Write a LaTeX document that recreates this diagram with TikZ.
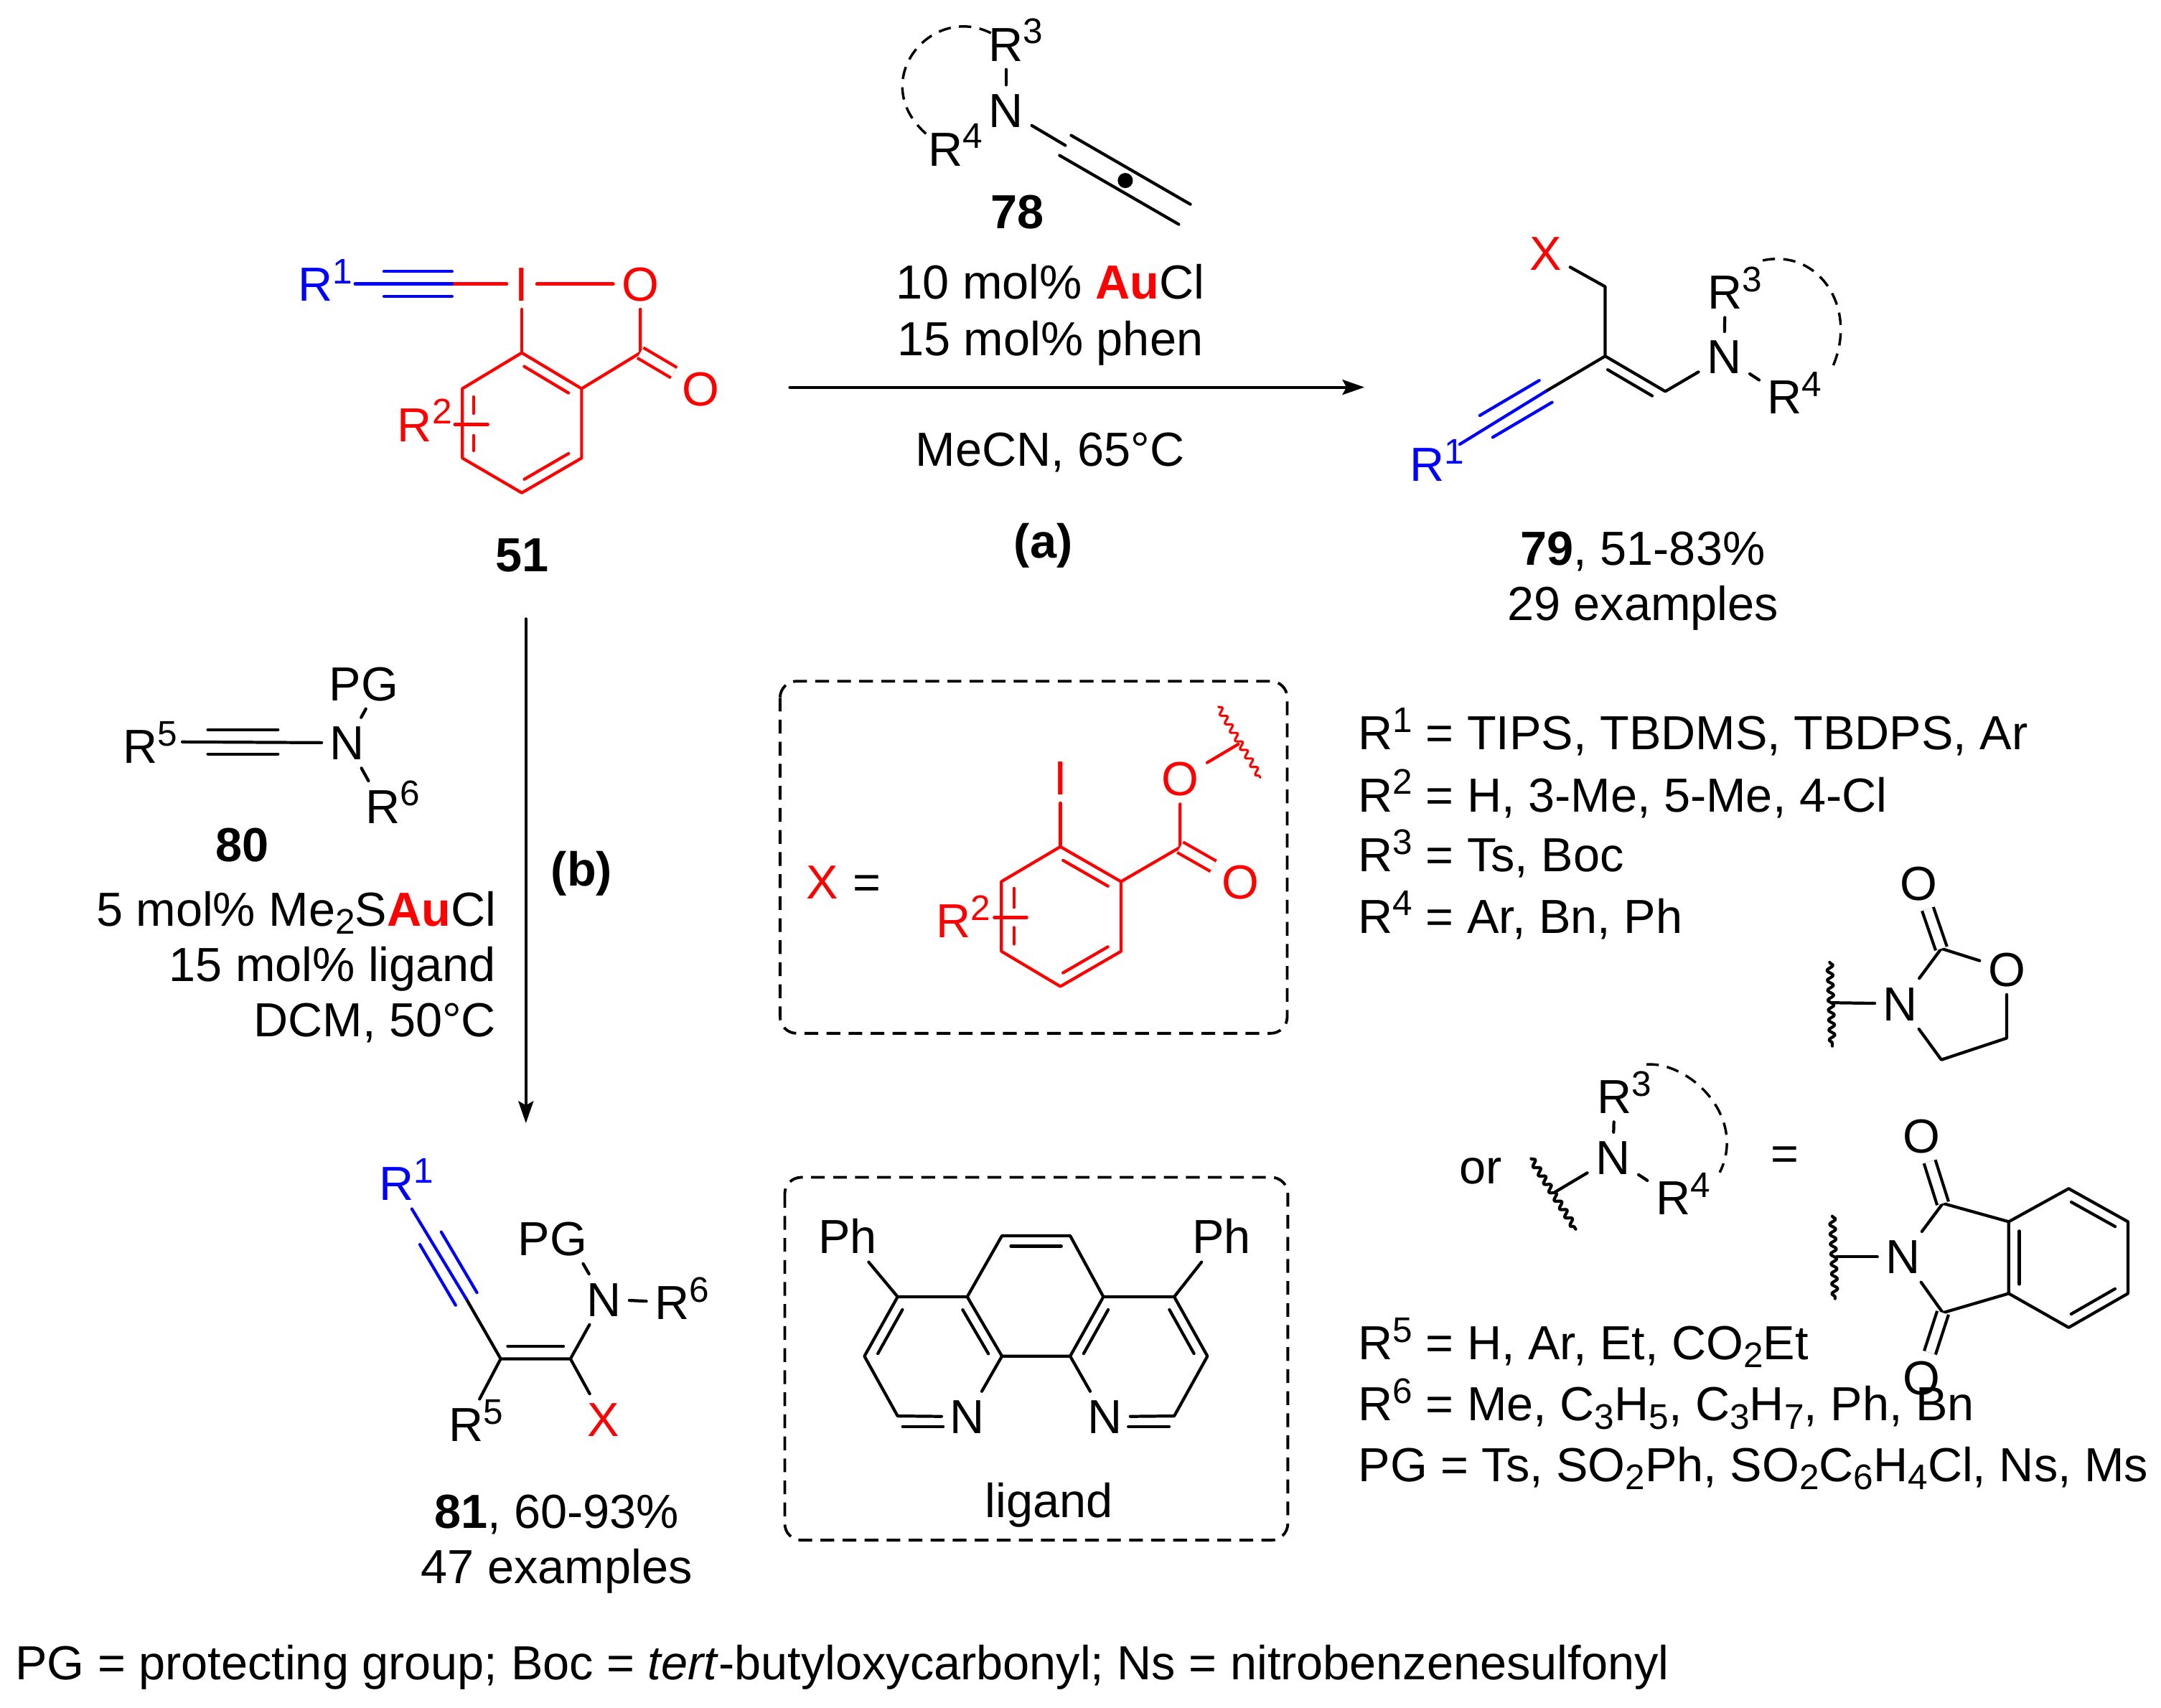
\documentclass[tikz,border=0pt]{standalone}
\usepackage{fontspec}
\setmainfont{Liberation Sans}
\usetikzlibrary{arrows.meta,calc,decorations.pathmorphing}
\newcommand{\supr}[1]{\raisebox{6.3pt}{\fontsize{12.9}{12.9}\selectfont #1}}
\newcommand{\subr}[1]{\raisebox{-3pt}{\fontsize{12.9}{12.9}\selectfont #1}}
\newcommand{\pbond}[4]{\draw ($(#1)!#3!(#2)!#4!90:(#2)$) -- ($(#2)!#3!(#1)!#4!-90:(#1)$);}
\tikzset{
  every node/.style={font=\fontsize{17.35}{20}\selectfont},
  atom/.style={inner sep=2.5pt,text height=12.3pt,text depth=0pt},
  txt/.style={anchor=base,inner sep=0pt},
  txtl/.style={anchor=base west,inner sep=0pt},
  txtr/.style={anchor=base east,inner sep=0pt},
  dbl/.style={double,double distance=3.2pt,line cap=butt},
  ringdash/.style={line width=.9pt,line cap=butt,dash pattern=on 4.5pt off 3pt},
  boxdash/.style={line width=1pt,line cap=butt,dash pattern=on 5pt off 3pt,rounded corners=6pt},
  wavy/.style={decorate,decoration={snake,segment length=3.6pt,amplitude=1.1pt}},
  rxn/.style={line width=1pt,-{Stealth[length=8pt,width=5.5pt,inset=1.5pt]}}
}
\begin{document}
\begin{tikzpicture}[x=.5pt,y=-.5pt,line width=1.1pt,line cap=round,line join=round]
\useasboundingbox (0,0) rectangle (1568,1239);
% 51
\coordinate (at) at (328,206);
\coordinate (as) at (278.6,206);
\begin{scope}[red]
\node[atom] (aI) at (378.6,206) {I};
\node[atom] (aO) at (464.6,206) {O};
\node[atom] (aD) at (508.6,282) {O};
\node[atom] (aR) at (301,308) {R\rlap{\supr{2}}};
\coordinate (aC) at (464.6,256);
\coordinate (a1) at (378.6,256);
\coordinate (a2) at (422,282);
\coordinate (a3) at (422,332.4);
\coordinate (a4) at (378.6,357.6);
\coordinate (a5) at (335.5,332.4);
\coordinate (a6) at (335.5,282);
\coordinate (ax) at (330,308);
\coordinate (ay) at (354,308);
\coordinate (ai) at (343.5,288);
\coordinate (aj) at (343.5,300);
\coordinate (ak) at (343.5,316);
\coordinate (al) at (343.5,327);
\draw (at) -- (aI);
\draw (aI) -- (aO);
\draw (aI) -- (a1);
\draw (a1) -- (a2) -- (a3) -- (a4) -- (a5) -- (a6) -- cycle;
\draw (a2) -- (aC) -- (aO);
\draw[dbl] (aC) -- (aD);
\draw (ax) -- (ay);
\draw (ai) -- (aj);
\draw (ak) -- (al);
\pbond{a1}{a2}{.13}{-3.8pt}
\pbond{a3}{a4}{.13}{-3.8pt}
\end{scope}
\begin{scope}[blue]
\node[atom] (aB) at (229,206) {R\rlap{\supr{1}}};
\draw[shorten <=5pt] (aB) -- (at);
\pbond{as}{at}{0}{4.5pt}
\pbond{as}{at}{0}{-4.5pt}
\end{scope}
\node[txt] at (379,415) {\textbf{51}};
% 78
\node[atom] (bN) at (730,80) {N};
\node[atom] (bT) at (730,32) {R\rlap{\supr{3}}};
\node[atom] (bF) at (686,108) {R\rlap{\supr{4}}};
\coordinate (bs) at (773,105.5);
\coordinate (bc) at (816.5,131);
\coordinate (be) at (859.5,155.5);
\coordinate (bu) at (719,24);
\coordinate (bv) at (673,98);
\draw (bN) -- (bs);
\pbond{bs}{be}{0}{4.2pt}
\pbond{bs}{be}{0}{-4.2pt}
\fill (bc) circle (5.5);
\draw (bN) -- (bT);
\draw[ringdash] (bu) .. controls (675,2) and (628,60) .. (bv);
\node[txt] at (738,166) {\textbf{78}};
\node[txt] at (762,217) {10 mol\% \textbf{\textcolor{red}{Au}}Cl};
\node[txt] at (762,258) {15 mol\% phen};
\node[txt] at (762,338) {MeCN, 65°C};
\node[txt] at (757,405) {\textbf{(a)}};
\coordinate (ra) at (573,281);
\coordinate (rb) at (990,281);
\draw[rxn] (ra) -- (rb);
% 79
\node[atom,red] (cX) at (1121.6,184) {X};
\node[atom] (cN) at (1251,259) {N};
\node[atom] (cT) at (1251.8,212) {R\rlap{\supr{3}}};
\node[atom] (cF) at (1295,288) {R\rlap{\supr{4}}};
\node[atom,blue] (cR) at (1035.4,337) {R\rlap{\supr{1}}};
\coordinate (c1) at (1164.7,208);
\coordinate (c2) at (1164.7,258.4);
\coordinate (c3) at (1208.3,284);
\coordinate (ct) at (1121.5,284);
\coordinate (cs) at (1078.4,309.4);
\coordinate (cu) at (1279,189);
\coordinate (cv) at (1328.4,269);
\draw (cX) -- (c1) -- (c2) -- (c3) -- (cN);
\draw (c2) -- (ct);
\pbond{c2}{c3}{.13}{-3.8pt}
\draw (cN) -- (cT);
\draw (cN) -- (cF);
\begin{scope}[blue]
\draw[shorten <=3pt] (cR) -- (ct);
\pbond{cs}{ct}{0}{4.6pt}
\pbond{cs}{ct}{0}{-4.6pt}
\end{scope}
\draw[ringdash] (cu) .. controls (1320,180) and (1350,225) .. (cv);
\node[txt] at (1192,410) {\textbf{79}, 51-83\%};
\node[txt] at (1192,450) {29 examples};
% 80
\node[atom] (dR) at (101.7,541.5) {R\rlap{\supr{5}}};
\node[atom] (dN) at (252,539) {N};
\node[atom] (dP) at (275.5,496) {\llap{P}G};
\node[atom] (dS) at (277.6,585) {R\rlap{\supr{6}}};
\coordinate (ds) at (150.8,538.3);
\coordinate (dt) at (201.7,538.3);
\draw[shorten <=6pt] (dR.east |- ds) -- (dN);
\pbond{ds}{dt}{0}{4.4pt}
\pbond{ds}{dt}{0}{-4.4pt}
\draw (dN) -- (dP);
\draw (dN) -- (dS);
\node[txt] at (176,625) {\textbf{80}};
\node[txtr] at (361,672) {5 mol\% Me\subr{2}S\textbf{\textcolor{red}{Au}}Cl};
\node[txtr] at (361,712) {15 mol\% ligand};
\node[txtr] at (361,752) {DCM, 50°C};
\node[txt] at (422,643) {\textbf{(b)}};
\coordinate (rc) at (381.6,449);
\coordinate (rd) at (381.6,815);
\draw[rxn] (rc) -- (rd);
% 81
\node[atom,blue] (fB) at (287.7,858.8) {R\rlap{\supr{1}}};
\node[atom] (fN) at (438,942.8) {N};
\node[atom] (fP) at (412.5,898.6) {\llap{P}G};
\node[atom] (fS) at (487.6,945) {R\rlap{\supr{6}}};
\node[atom] (fR) at (338.3,1033.6) {R\rlap{\supr{5}}};
\node[atom,red] (fX) at (438,1029.8) {X};
\coordinate (fs) at (312.4,898.5);
\coordinate (ft) at (338.3,942.5);
\coordinate (f1) at (363.3,986);
\coordinate (f2) at (413.9,986);
\draw (ft) -- (f1) -- (f2) -- (fN);
\draw (f1) -- (fR);
\draw (f2) -- (fX);
\draw (fN) -- (fP);
\draw (fN) -- (fS);
\pbond{f2}{f1}{.1}{-4.6pt}
\begin{scope}[blue]
\draw (fB) -- (ft);
\pbond{fs}{ft}{0}{4.5pt}
\pbond{fs}{ft}{0}{-4.5pt}
\end{scope}
\node[txt] at (404,1109) {\textbf{81}, 60-93\%};
\node[txt] at (404,1149) {47 examples};
% X box
\draw[boxdash] (566,494.3) rectangle (934,749.8);
\node[txt,red] at (596.4,652) {X};
\node[txt] at (629,652) {=};
\begin{scope}[red]
\node[atom] (gI) at (769.4,564.3) {I};
\node[atom] (gO) at (856.3,565) {O};
\node[atom] (gD) at (900,639.7) {O};
\node[atom] (gR) at (691.8,668) {R\rlap{\supr{2}}};
\coordinate (gC) at (856.3,614.8);
\coordinate (g1) at (769.4,614.4);
\coordinate (g2) at (813.4,639.7);
\coordinate (g3) at (813.4,690.3);
\coordinate (g4) at (769.4,715.8);
\coordinate (g5) at (726.6,690.3);
\coordinate (g6) at (726.6,639.7);
\coordinate (gw) at (898.5,540);
\coordinate (gu) at (884,512.8);
\coordinate (gv) at (914.5,564.3);
\coordinate (gx) at (721.4,665.8);
\coordinate (gy) at (745,665.8);
\coordinate (gi) at (735.8,644.6);
\coordinate (gj) at (735.8,658.4);
\coordinate (gk) at (735.8,673);
\coordinate (gl) at (735.8,685);
\draw (gI) -- (g1);
\draw (g1) -- (g2) -- (g3) -- (g4) -- (g5) -- (g6) -- cycle;
\draw (g2) -- (gC) -- (gO);
\draw[dbl] (gC) -- (gD);
\draw (gO) -- (gw);
\draw[line width=.8pt,wavy] (gu) -- (gv);
\draw (gx) -- (gy);
\draw (gi) -- (gj);
\draw (gk) -- (gl);
\pbond{g1}{g2}{.13}{-3.8pt}
\pbond{g3}{g4}{.13}{-3.8pt}
\end{scope}
% ligand box
\draw[boxdash] (569.4,854.3) rectangle (934.4,1117.6);
\node[atom] (hL) at (615,897.4) {Ph};
\node[atom] (hR) at (886.3,897.4) {Ph};
\node[atom] (hA) at (701.8,1028) {N};
\node[atom] (hB) at (801.5,1028) {N};
\coordinate (h1) at (651.3,941);
\coordinate (h2) at (701.8,941);
\coordinate (h3) at (727,896.7);
\coordinate (h4) at (776.5,896.7);
\coordinate (h5) at (800.6,941);
\coordinate (h6) at (852,941);
\coordinate (h7) at (876.1,984.1);
\coordinate (h8) at (852,1027.5);
\coordinate (h9) at (776.5,984.1);
\coordinate (h10) at (727,984.1);
\coordinate (h11) at (651.3,1027.5);
\coordinate (h12) at (627.2,984.1);
\coordinate (hc) at (688,1027.5);
\coordinate (hd) at (815,1027.5);
\draw (hL) -- (h1) -- (h2) -- (h3) -- (h4) -- (h5) -- (h6) -- (hR);
\draw (h6) -- (h7) -- (h8) -- (hB) -- (h9) -- (h10) -- (hA) -- (h11) -- (h12) -- (h1);
\draw (h2) -- (h10);
\draw (h5) -- (h9);
\pbond{h12}{h1}{.13}{-3.8pt}
\pbond{h2}{h10}{.13}{-3.8pt}
\pbond{h3}{h4}{.13}{-3.8pt}
\pbond{h9}{h5}{.13}{-3.8pt}
\pbond{h6}{h7}{.13}{-3.8pt}
\pbond{h11}{hc}{.1}{-3.8pt}
\pbond{hd}{h8}{.1}{-3.8pt}
\node[txt] at (761,1101) {ligand};
% R lists
\node[txtl] at (984.5,544) {R\supr{1} = TIPS, TBDMS, TBDPS, Ar};
\node[txtl] at (984.5,589) {R\supr{2} = H, 3-Me, 5-Me, 4-Cl};
\node[txtl] at (984.5,632.5) {R\supr{3} = Ts, Boc};
\node[txtl] at (984.5,677) {R\supr{4} = Ar, Bn, Ph};
\node[txtl] at (984.5,986.5) {R\supr{5} = H, Ar, Et, CO\subr{2}Et};
\node[txtl] at (984.5,1031) {R\supr{6} = Me, C\subr{3}H\subr{5}, C\subr{3}H\subr{7}, Ph, Bn};
\node[txtl] at (984.5,1075) {PG = Ts, SO\subr{2}Ph, SO\subr{2}C\subr{6}H\subr{4}Cl, Ns, Ms};
% oxazolidinone
\node[atom] (eN) at (1378.9,728.3) {N};
\node[atom] (eO) at (1456,703.3) {O};
\node[atom] (eD) at (1392.4,641.2) {O};
\coordinate (eC) at (1408.6,688.3);
\coordinate (e1) at (1456,753.3);
\coordinate (e2) at (1408.6,769);
\coordinate (ew) at (1329.5,727.6);
\coordinate (eu) at (1327.6,698.3);
\coordinate (ev) at (1329.5,759);
\draw (eN) -- (eC) -- (eO) -- (e1) -- (e2) -- (eN);
\draw[dbl] (eC) -- (eD);
\draw (eN) -- (ew);
\draw[wavy] (eu) -- (ev);
% middle amine
\node[txt] at (1074.3,859) {or};
\node[atom] (kN) at (1170.3,840) {N};
\node[atom] (kT) at (1171.5,795.7) {R\rlap{\supr{3}}};
\node[atom] (kF) at (1213.9,869) {R\rlap{\supr{4}}};
\coordinate (kw) at (1128.3,865);
\coordinate (ku) at (1111,840.8);
\coordinate (kv) at (1143.3,891.9);
\coordinate (kp) at (1194.6,772.4);
\coordinate (kq) at (1247.8,850.8);
\draw (kN) -- (kT);
\draw (kN) -- (kF);
\draw (kN) -- (kw);
\draw[wavy] (ku) -- (kv);
\draw[ringdash] (kp) .. controls (1225,770) and (1268,810) .. (kq);
\node[txt] at (1295,849) {=};
% phthalimide
\node[atom] (mN) at (1380.8,912) {N};
\node[atom] (mO) at (1394.3,824.5) {O};
\node[atom] (mP) at (1394.3,1000) {O};
\coordinate (m1) at (1409.7,873.2);
\coordinate (m2) at (1409.7,952.6);
\coordinate (m3) at (1457.5,886.5);
\coordinate (m4) at (1457.5,938.6);
\coordinate (m5) at (1501,862.5);
\coordinate (m6) at (1544,886.5);
\coordinate (m7) at (1544,938.6);
\coordinate (m8) at (1501,963.3);
\coordinate (mw) at (1332.6,912);
\coordinate (mu) at (1329.5,882.5);
\coordinate (mv) at (1331.5,942.3);
\draw (mN) -- (m1) -- (m3) -- (m4) -- (m2) -- (mN);
\draw (m3) -- (m5) -- (m6) -- (m7) -- (m8) -- (m4);
\draw[dbl] (m1) -- (mO);
\draw[dbl] (m2) -- (mP);
\draw (mN) -- (mw);
\draw[wavy] (mu) -- (mv);
\pbond{m4}{m3}{.13}{-3.8pt}
\pbond{m5}{m6}{.13}{-3.8pt}
\pbond{m7}{m8}{.13}{-3.8pt}
% footnote
\node[txtl] at (10,1219) {PG = protecting group; Boc = \textit{tert}-butyloxycarbonyl; Ns = nitrobenzenesulfonyl};
\end{tikzpicture}
\end{document}
